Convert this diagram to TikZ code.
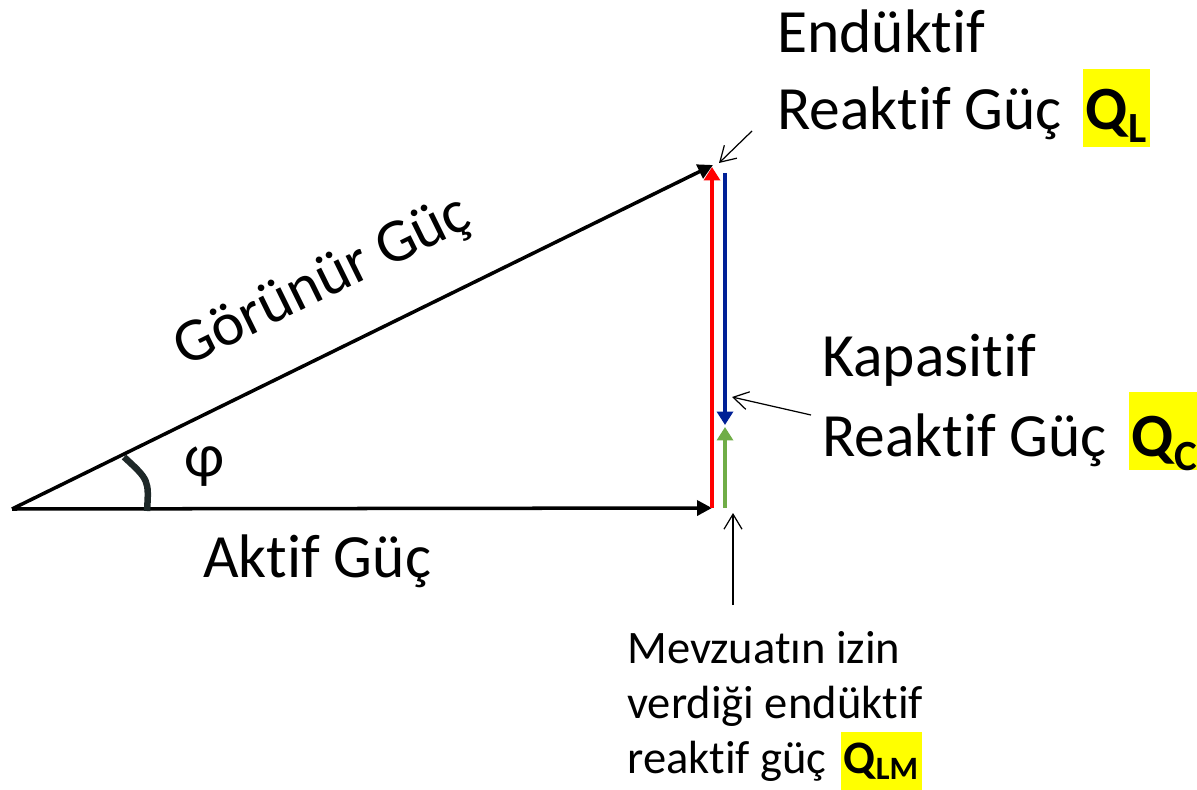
\documentclass[tikz,border=0pt]{standalone}
\usepackage{fontspec}
\setmainfont{Carlito}[Ligatures=NoCommon]
\usepackage{xcolor}
\usepackage{tikz}
\usetikzlibrary{arrows.meta}
\definecolor{qred}{RGB}{255,0,0}
\definecolor{qblue}{RGB}{0,32,150}
\definecolor{qgreen}{RGB}{112,173,71}
\definecolor{angdark}{RGB}{30,40,40}
\definecolor{hlyellow}{RGB}{255,255,0}

\begin{document}
\begin{tikzpicture}[x=0.02cm, y=-0.02cm,
    big/.style={font=\fontsize{35}{42}\selectfont, inner sep=0pt, anchor=base west},
    small/.style={font=\fontsize{26.5}{32}\selectfont, inner sep=0pt, anchor=base west},
    hl/.style={fill=hlyellow, inner ysep=0pt, inner xsep=1.5pt, anchor=base west},
    vec/.style={line width=2pt, -{Triangle[length=0.3cm,width=0.3cm]}},
    qvec/.style={line width=2.3pt, -{Triangle[length=0.27cm,width=0.32cm]}},
    pointer/.style={line width=0.7pt, -{Straight Barb[length=0.3cm,width=0.36cm]}}]
  % 1 unit = 1 px of the 1197 x 790 frame, y grows downwards
  \useasboundingbox (0,0) rectangle (1197,790);

  % power triangle
  \coordinate (O) at (12,509);
  \coordinate (P) at (712,508);
  \coordinate (S) at (713,165);
  \draw[vec] (O) -- (P);
  \draw[vec] (O) -- (S);
  \draw[line width=0.13cm, angdark] (147,511) .. controls (149,480) .. (124,457);
  \node[big, anchor=center] (phi) at (205,467) {φ};
  \node[big, anchor=center, rotate=26.2] (gorunur) at (323,283) {Görünür Güç};
  \node[big] (aktif) at (203,577) {Aktif Güç};

  % reactive parts
  \coordinate (R0) at (712,508);
  \coordinate (R1) at (712,167);
  \coordinate (B0) at (725,173);
  \coordinate (B1) at (725,425);
  \coordinate (G0) at (725,508);
  \coordinate (G1) at (725,427);
  \draw[qvec, qred] (R0) -- (R1);
  \draw[qvec, qblue] (B0) -- (B1);
  \draw[qvec, qgreen] (G0) -- (G1);

  % labels
  \node[big] (endL) at (777,53) {Endüktif};
  \node[big] (reakL) at (777,130) {Reaktif Güç};
  \node[hl, text height=1.22cm, text depth=0.34cm, font=\fontsize{35}{42}\selectfont\bfseries]
    (qL) at (1083,130) {Q\textsubscript{L}};
  \node[big] (kapC) at (822,377) {Kapasitif};
  \node[big] (reakC) at (822,457) {Reaktif Güç};
  \node[hl, text height=1.3cm, text depth=0.26cm, font=\fontsize{35}{42}\selectfont\bfseries]
    (qC) at (1129,457) {Q\textsubscript{C}};
  \node[small] (mev1) at (627,663) {Mevzuatın izin};
  \node[small] (mev2) at (627,718) {verdiği endüktif};
  \node[small] (mev3) at (627,773) {reaktif güç};
  \node[hl, text height=0.82cm, text depth=0.34cm, font=\fontsize{26.5}{32}\selectfont\bfseries]
    (qLM) at (841,773) {Q\textsubscript{LM}};

  % pointers
  \coordinate (pLs) at (752,131);
  \coordinate (pLt) at (719,163);
  \coordinate (pCs) at (811,415);
  \coordinate (pCt) at (732,397);
  \coordinate (pMs) at (733,605);
  \coordinate (pMt) at (733,513);
  \draw[pointer] (pLs) -- (pLt);
  \draw[pointer] (pCs) -- (pCt);
  \draw[pointer] (pMs) -- (pMt);
\end{tikzpicture}
\end{document}
